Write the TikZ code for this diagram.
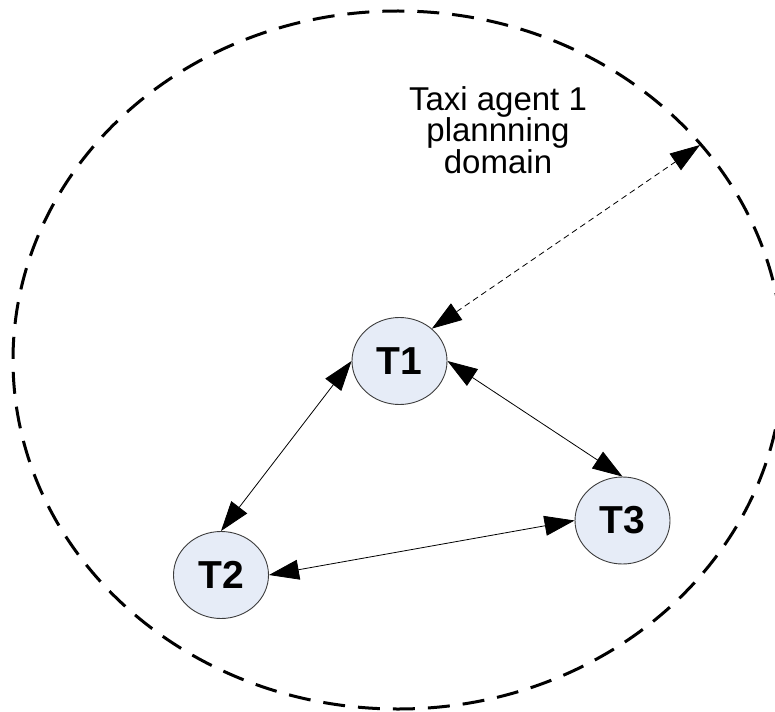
\documentclass[tikz,border=0pt]{standalone}
\usepackage{fontspec}
\setmainfont{Liberation Sans}
\usetikzlibrary{arrows.meta,shapes.geometric}
\definecolor{nodefill}{RGB}{230,236,247}
\definecolor{nodeline}{RGB}{60,60,60}
\tikzset{
  taxi/.style={ellipse, draw=nodeline, line width=0.9pt, fill=nodefill,
    minimum width=95pt, minimum height=87pt, inner sep=0pt,
    font=\fontsize{39}{39}\selectfont\bfseries},
  conn/.style={line width=0.8pt, {Triangle[length=30pt,width=20pt]}-{Triangle[length=30pt,width=20pt]}},
  dotconn/.style={conn, dash pattern=on 6pt off 4pt},
  domainline/.style={line width=3pt, dash pattern=on 22pt off 13pt}
}
\begin{document}
\begin{tikzpicture}[x=1pt,y=-1pt]
\useasboundingbox (0,0) rectangle (775,711);
\draw[domainline] (398,360) ellipse [x radius=385, y radius=349];
\node[align=center, font=\fontsize{33}{31.5}\selectfont] (lbl) at (498,130) {Taxi agent 1\\plannning\\domain};
\node[taxi] (T1) at (399.5,361) {T1};
\node[taxi] (T2) at (221,575) {T2};
\node[taxi] (T3) at (622.5,520.5) {T3};
\coordinate (edge) at (700,145);
\draw[conn] (T1.west) -- (T2.north);
\draw[conn] (T1.east) -- (T3.north);
\draw[conn] (T2.east) -- (T3.west);
\draw[dotconn] (T1.45) -- (edge);
\end{tikzpicture}
\end{document}
